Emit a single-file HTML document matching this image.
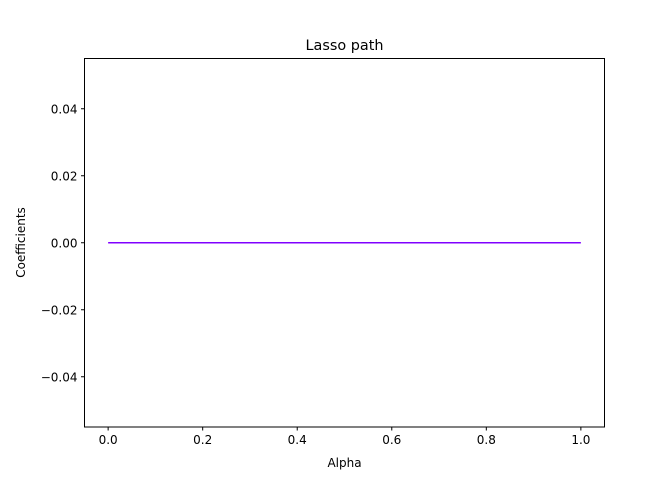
<!DOCTYPE html>
<html><head><meta charset="utf-8"><style>
body{margin:0;background:#fff}
svg text{font-family:"DejaVu Sans","Liberation Sans",sans-serif;fill:#000}
</style></head><body>
<svg id="chart" width="672" height="480" xmlns="http://www.w3.org/2000/svg">
<rect width="672" height="480" fill="#fff"/>
<g id="plot"></g>
<rect x="84.5" y="58.5" width="520" height="368.5" fill="none" stroke="#000" stroke-width="1"/>
<text x="344.5" y="50" font-size="14.4" text-anchor="middle">Lasso path</text>
<text x="344.5" y="467" font-size="12" text-anchor="middle">Alpha</text>
<text x="25" y="242.5" font-size="12" text-anchor="middle" transform="rotate(-90 25 242.5)">Coefficients</text>
</svg>
<script>
const alphas = [0.0, 0.1, 0.2, 0.3, 0.4, 0.5, 0.6, 0.7, 0.8, 0.9, 1.0];
const coefs = [0, 0, 0, 0, 0, 0, 0, 0, 0, 0, 0];
const xTicks = [0.0, 0.2, 0.4, 0.6, 0.8, 1.0];
const xTickLabels = ["0.0", "0.2", "0.4", "0.6", "0.8", "1.0"];
const yTicks = [-0.04, -0.02, 0.0, 0.02, 0.04];
const yTickLabels = ["\u22120.04", "\u22120.02", "0.00", "0.02", "0.04"];

const X0 = 84.5, X1 = 604.5, Y0 = 427, Y1 = 58.5;
const xMin = -0.05, xMax = 1.05, yMin = -0.055, yMax = 0.055;
const xs = v => X0 + (v - xMin) / (xMax - xMin) * (X1 - X0);
const ys = v => Y0 - (v - yMin) / (yMax - yMin) * (Y0 - Y1);
const NS = "http://www.w3.org/2000/svg";
const g = document.getElementById("plot");

xTicks.forEach((t, i) => {
  const l = document.createElementNS(NS, "line");
  l.setAttribute("x1", xs(t)); l.setAttribute("x2", xs(t));
  l.setAttribute("y1", Y0); l.setAttribute("y2", Y0 + 3.5);
  l.setAttribute("stroke", "#000");
  
  
  g.appendChild(l);
  const tx = document.createElementNS(NS, "text");
  tx.setAttribute("x", xs(t)); tx.setAttribute("y", Y0 + 17);
  tx.setAttribute("font-size", "12"); tx.setAttribute("text-anchor", "middle");
  tx.textContent = xTickLabels[i];
  
  
  g.appendChild(tx);
});
yTicks.forEach((t, i) => {
  const l = document.createElementNS(NS, "line");
  l.setAttribute("x1", X0 - 3.5); l.setAttribute("x2", X0);
  l.setAttribute("y1", ys(t)); l.setAttribute("y2", ys(t));
  l.setAttribute("stroke", "#000");
  
  
  g.appendChild(l);
  const tx = document.createElementNS(NS, "text");
  tx.setAttribute("x", X0 - 7); tx.setAttribute("y", ys(t) + 4.5);
  tx.setAttribute("font-size", "12"); tx.setAttribute("text-anchor", "end");
  tx.textContent = yTickLabels[i];
  
  
  g.appendChild(tx);
});
const pl = document.createElementNS(NS, "polyline");
pl.setAttribute("points", alphas.map((a, i) => xs(a) + "," + ys(coefs[i])).join(" "));
pl.setAttribute("fill", "none");
pl.setAttribute("stroke", "#8000ff");
pl.setAttribute("stroke-width", "1.5");


g.appendChild(pl);
</script>
</body></html>
